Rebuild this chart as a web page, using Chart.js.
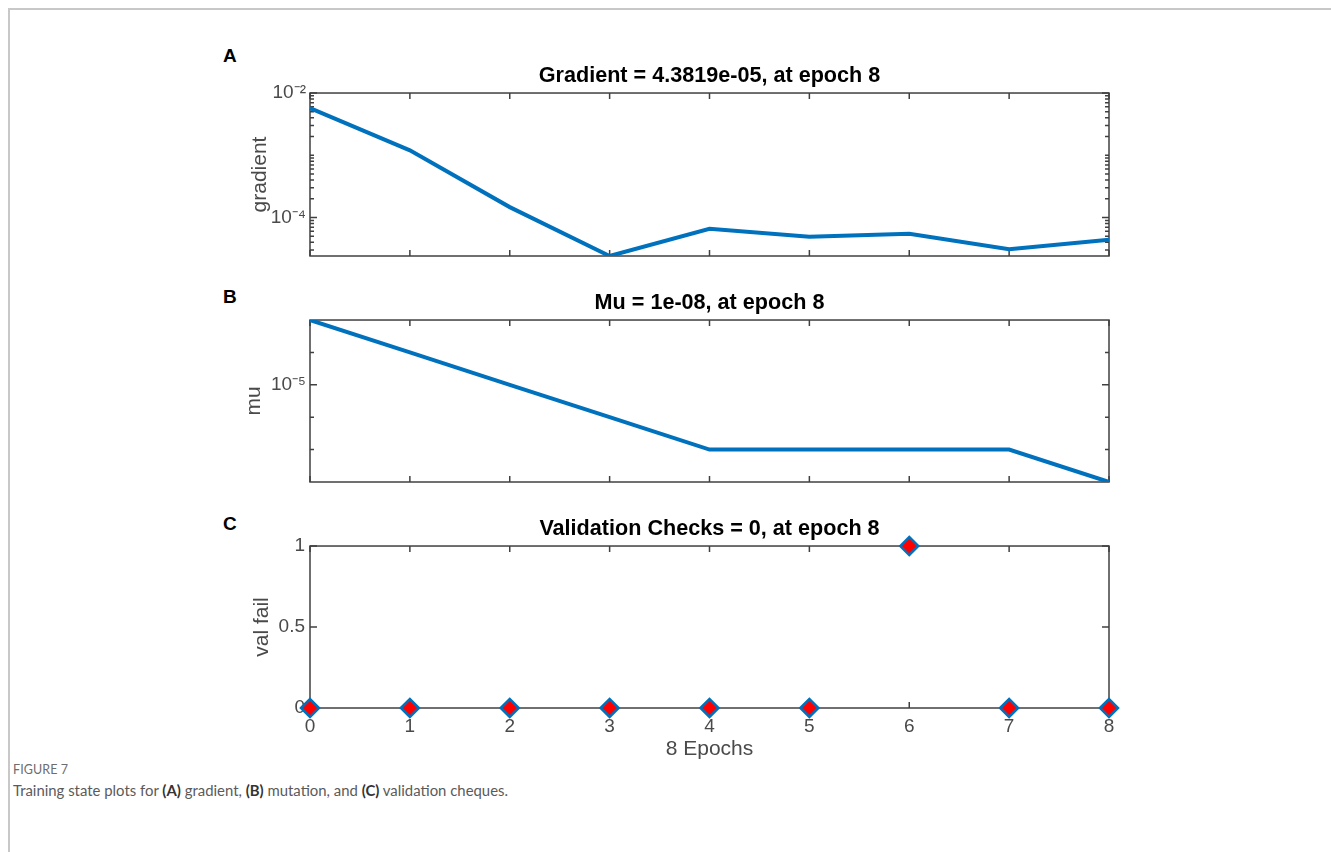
<!DOCTYPE html>
<html>
<head>
<meta charset="utf-8">
<script src="https://cdn.jsdelivr.net/npm/chart.js@4.4.0/dist/chart.umd.min.js"></script>
<style>
  body { margin: 0; background: #fff; width: 1331px; height: 852px; overflow: hidden; position: relative; font-family: 'Liberation Sans', Arial, sans-serif; }
  .frame { position: absolute; left: 8px; top: 8px; right: 0; bottom: 0; border-top: 2px solid #c8c8c8; border-left: 2px solid #c8c8c8; }
  .plot { position: absolute; left: 200px; }
  .letter { position: absolute; left: 223px; font-weight: bold; font-size: 19px; color: #000; }
  .fig { position: absolute; left: 13px; top: 762px; font-family: Lato, 'Open Sans', sans-serif; font-size: 12.5px; color: #6d6d6d; letter-spacing: 0.1px; }
  .cap { position: absolute; left: 13px; top: 781px; font-family: Lato, 'Open Sans', sans-serif; font-size: 14.9px; color: #5a5a5a; }
  .cap b { color: #333; }
</style>
</head>
<body>
<div class="frame"></div>
<div class="letter" style="top:45px">A</div>
<div class="letter" style="top:286px">B</div>
<div class="letter" style="top:513px">C</div>

<canvas id="chartA" class="plot" style="top:48px" width="1019" height="218"></canvas>
<canvas id="chartB" class="plot" style="top:275px" width="1019" height="217"></canvas>
<canvas id="chartC" class="plot" style="top:501px" width="1019" height="271"></canvas>

<div class="fig">FIGURE 7</div>
<div class="cap">Training state plots for <b>(A)</b> gradient, <b>(B)</b> mutation, and <b>(C)</b> validation cheques.</div>

<script>
// --- data ---
const epochs = ['0', '1', '2', '3', '4', '5', '6', '7', '8'];
const gradient = [5.7e-3, 1.2e-3, 1.47e-4, 2.41e-5, 6.6e-5, 4.9e-5, 5.5e-5, 3.09e-5, 4.38e-5];
const mu = [1e-3, 1e-4, 1e-5, 1e-6, 1e-7, 1e-7, 1e-7, 1e-7, 1e-8];
const valFail = [0, 0, 0, 0, 0, 0, 1, 0, 0];

// tick values and the ones that carry a label
const gradTicks = [3e-5, 4e-5, 5e-5, 6e-5, 7e-5, 8e-5, 9e-5,
  1e-4, 2e-4, 3e-4, 4e-4, 5e-4, 6e-4, 7e-4, 8e-4, 9e-4,
  1e-3, 2e-3, 3e-3, 4e-3, 5e-3, 6e-3, 7e-3, 8e-3, 9e-3, 1e-2];
const gradLabelVals = [1e-4, 1e-2];
const gradLabels = ['10⁻⁴', '10⁻²'];
const muTicks = [1e-7, 1e-6, 1e-5, 1e-4];
const muLabelVals = [1e-5];
const muLabels = ['10⁻⁵'];

const BLUE = '#0072BD';
const AXIS = '#404040';
const TXT = '#4a4a4a';
const FONT = "'Liberation Sans', Arial, sans-serif";

function logLabel(vals, labels) {
  return v => {
    const i = vals.findIndex(x => Math.abs(Math.log10(x) - Math.log10(v)) < 1e-6);
    return i >= 0 ? labels[i] : '';
  };
}

// no extra room for half-labels above/below the box
function fixY(s) {
  s.width = 110;
  s.paddingTop = 0;
  s.paddingBottom = 0;
}

// matlab style box with inward ticks on all four sides
const boxTicks = {
  id: 'boxTicks',
  beforeDatasetsDraw(chart) {
    const { ctx, chartArea: a, scales: { x, y } } = chart;
    ctx.save();
    ctx.strokeStyle = AXIS;
    ctx.lineWidth = 1.5;
    ctx.strokeRect(a.left, a.top, a.right - a.left, a.bottom - a.top);
    ctx.beginPath();
    chart.data.labels.forEach((l, i) => {
      const px = x.getPixelForValue(i);
      ctx.moveTo(px, a.bottom); ctx.lineTo(px, a.bottom - 6);
      ctx.moveTo(px, a.top); ctx.lineTo(px, a.top + 6);
    });
    y.ticks.forEach(t => {
      const py = y.getPixelForValue(t.value);
      const len = t.label ? 7 : 4;
      ctx.moveTo(a.left, py); ctx.lineTo(a.left + len, py);
      ctx.moveTo(a.right, py); ctx.lineTo(a.right - len, py);
    });
    ctx.stroke();
    ctx.restore();
  }
};

function baseOptions(title, yScale, xScale) {
  return {
    responsive: false,
    animation: false,
    layout: { padding: { left: 0, right: 0, top: 0, bottom: 10 } },
    plugins: {
      legend: { display: false },
      tooltip: { enabled: false },
      title: {
        display: true, text: title, color: '#000',
        font: { family: FONT, size: 21.6, weight: 'bold', lineHeight: 1.2 },
        padding: { top: 15.5, bottom: 3.6 }
      }
    },
    scales: {
      x: xScale || { type: 'category', offset: false, display: false },
      y: yScale,
      // empty right axis so the title centres over the plot box
      y2: {
        type: 'linear', position: 'right', min: 0, max: 1, display: true,
        grid: { display: false, drawTicks: false }, border: { display: false },
        ticks: { display: false },
        afterFit: fixY
      }
    }
  };
}

function yLog(min, max, ticks, vals, labels, text, pad) {
  return {
    type: 'logarithmic', position: 'left', min: min, max: max,
    afterBuildTicks: s => { s.ticks = ticks.map(v => ({ value: v })); },
    afterFit: fixY,
    grid: { display: false, drawTicks: false }, border: { display: false },
    ticks: { autoSkip: false, padding: 4, color: TXT, font: { family: FONT, size: 19 }, callback: logLabel(vals, labels) },
    title: { display: true, text: text, color: TXT, font: { family: FONT, size: 21, lineHeight: 1.2 }, padding: { top: pad, bottom: 0 } }
  };
}

new Chart(document.getElementById('chartA'), {
  type: 'line',
  data: {
    labels: epochs,
    datasets: [{ data: gradient, borderColor: BLUE, borderWidth: 4, pointRadius: 0, tension: 0 }]
  },
  options: baseOptions('Gradient = 4.3819e-05, at epoch 8',
    yLog(Math.min(...gradient), 1e-2, gradTicks, gradLabelVals, gradLabels, 'gradient', 47.4)),
  plugins: [boxTicks]
});

new Chart(document.getElementById('chartB'), {
  type: 'line',
  data: {
    labels: epochs,
    datasets: [{ data: mu, borderColor: BLUE, borderWidth: 4, pointRadius: 0, tension: 0 }]
  },
  options: baseOptions('Mu = 1e-08, at epoch 8',
    yLog(1e-8, 1e-3, muTicks, muLabelVals, muLabels, 'mu', 42)),
  plugins: [boxTicks]
});

new Chart(document.getElementById('chartC'), {
  type: 'line',
  data: {
    labels: epochs,
    datasets: [{
      data: valFail, showLine: false, clip: false,
      pointStyle: 'rectRot', pointRadius: 9, pointBorderWidth: 2.5,
      pointBackgroundColor: '#ff0000', pointBorderColor: BLUE
    }]
  },
  options: baseOptions('Validation Checks = 0, at epoch 8',
    {
      type: 'linear', position: 'left', min: 0, max: 1,
      afterFit: fixY,
      grid: { display: false, drawTicks: false }, border: { display: false },
      ticks: { stepSize: 0.5, padding: 5, color: TXT, font: { family: FONT, size: 19 }, callback: v => String(v) },
      title: { display: true, text: 'val fail', color: TXT, font: { family: FONT, size: 21, lineHeight: 1.2 }, padding: { top: 50, bottom: 0 } }
    },
    {
      type: 'category', offset: false, position: 'bottom',
      afterFit: s => { s.height = 54; },
      grid: { display: false, drawTicks: false }, border: { display: false },
      ticks: { padding: 7, maxRotation: 0, autoSkip: false, color: TXT, font: { family: FONT, size: 19 } },
      title: { display: true, text: '8 Epochs', color: TXT, font: { family: FONT, size: 21, lineHeight: 1.2 }, padding: { top: 0, bottom: 0 } }
    }),
  plugins: [boxTicks]
});
</script>
</body>
</html>
